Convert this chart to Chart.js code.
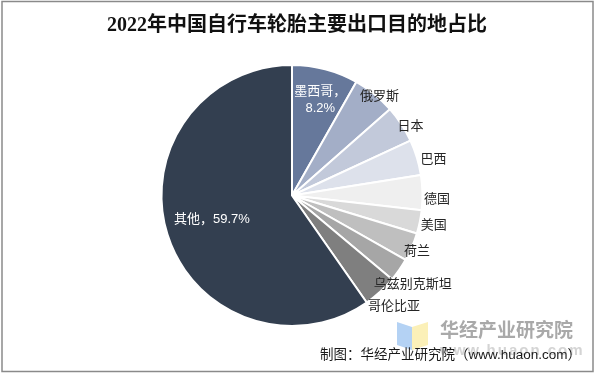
<!DOCTYPE html>
<html>
<head>
<meta charset="utf-8">
<script src="https://cdn.jsdelivr.net/npm/chart.js@4.4.0/dist/chart.umd.min.js"></script>
<style>
  html, body { margin: 0; padding: 0; background: #fff; }
  #wrap { width: 596px; height: 376px; position: relative; }
</style>
</head>
<body>
<div id="wrap"><canvas id="myChart"></canvas></div>
<script>
// data (share of exports, %)
const categories = ["墨西哥", "俄罗斯", "日本", "巴西", "德国", "美国", "荷兰", "乌兹别克斯坦", "哥伦比亚", "其他"];
const shares = [8.2, 5.3, 4.6, 4.4, 4.3, 2.9, 3.5, 2.9, 4.2, 59.7];
const showValue = [true, false, false, false, false, false, false, false, false, true];

const chartTitle = "2022年中国自行车轮胎主要出口目的地占比";
const sourceNote = "制图：华经产业研究院（www.huaon.com）";

// styles
const sliceColors = ["#66789b", "#a3aec7", "#c2c9da", "#dde1eb", "#efefef",
                     "#d9d9d9", "#bfbfbf", "#a6a6a6", "#7f7f7f", "#333f50"];
const labelColors = ["#ffffff", "#262626", "#262626", "#262626", "#262626",
                     "#262626", "#262626", "#262626", "#262626", "#ffffff"];
const labelDist = [99, 132, 137, 146, 145, 145, 137, 150, 151, 84];
const labelTurn = [0, 2.5, 3, 2.6, 2.7, 0.3, 1, 1.7, 0, 0]; // degrees, clockwise
const labelFont = '13px "Liberation Sans", "Noto Sans CJK SC", sans-serif';

const sliceLabels = {
  id: "sliceLabels",
  afterDatasetsDraw(chart) {
    const ctx = chart.ctx;
    const arcs = chart.getDatasetMeta(0).data;
    ctx.save();
    ctx.font = labelFont;
    ctx.textAlign = "center";
    ctx.textBaseline = "middle";
    arcs.forEach(function (arc, i) {
      const p = arc.getProps(["x", "y", "startAngle", "endAngle"], true);
      const a = (p.startAngle + p.endAngle) / 2 + labelTurn[i] * Math.PI / 180;
      const cx = p.x + Math.cos(a) * labelDist[i];
      const cy = p.y + Math.sin(a) * labelDist[i];
      ctx.fillStyle = labelColors[i];
      if (showValue[i] && i === 0) {
        ctx.fillText(categories[i] + "，", cx + 3, cy - 8);
        ctx.fillText(shares[i].toFixed(1) + "%", cx + 3, cy + 9);
      } else if (showValue[i]) {
        ctx.fillText(categories[i] + "，" + shares[i].toFixed(1) + "%", cx, cy - 1);
      } else {
        ctx.fillText(categories[i], cx, cy);
      }
    });
    ctx.restore();
  }
};

const decorations = {
  id: "decorations",
  afterDraw(chart) {
    const ctx = chart.ctx;
    ctx.save();
    // frame
    ctx.strokeStyle = "#8a8a8a";
    ctx.lineWidth = 1.5;
    ctx.strokeRect(2, 1.5, 591, 370);

    // title
    ctx.fillStyle = "#111111";
    ctx.font = 'bold 20px "Liberation Serif", "Noto Sans CJK SC", serif';
    ctx.textAlign = "center";
    ctx.textBaseline = "middle";
    ctx.fillText(chartTitle, 297, 26);

    // watermark logo
    ctx.fillStyle = "#b4d2f4";
    ctx.beginPath();
    ctx.moveTo(397, 322); ctx.lineTo(412, 327); ctx.lineTo(412, 350); ctx.lineTo(397, 345);
    ctx.closePath(); ctx.fill();
    ctx.fillStyle = "#fbf0b8";
    ctx.beginPath();
    ctx.moveTo(412, 327); ctx.lineTo(428, 322); ctx.lineTo(428, 345); ctx.lineTo(412, 350);
    ctx.closePath(); ctx.fill();

    // watermark text
    ctx.textAlign = "left";
    ctx.fillStyle = "#a9a9a9";
    ctx.font = 'bold 19px "Noto Sans CJK SC", sans-serif';
    ctx.fillText("华经产业研究院", 440, 330);
    ctx.fillStyle = "#d4d4d4";
    ctx.font = 'bold 15px "Liberation Sans", sans-serif';
    ctx.letterSpacing = "2px";
    ctx.fillText("www.huaon.com", 440, 351);
    ctx.letterSpacing = "0px";

    // source note
    ctx.textAlign = "right";
    ctx.fillStyle = "#1a1a1a";
    ctx.font = '13.5px "Liberation Sans", "Noto Sans CJK SC", sans-serif';
    ctx.fillText(sourceNote, 581, 355);
    ctx.restore();
  }
};

new Chart("myChart", {
  type: "pie",
  data: {
    labels: categories,
    datasets: [{
      data: shares,
      backgroundColor: sliceColors,
      borderColor: "#ffffff",
      borderWidth: 2,
      radius: 130.5
    }]
  },
  options: {
    responsive: true,
    maintainAspectRatio: false,
    animation: false,
    layout: { padding: { left: 20, right: 32, top: 40, bottom: 25 } },
    plugins: {
      legend: { display: false },
      tooltip: { enabled: false },
      title: { display: false }
    }
  },
  plugins: [sliceLabels, decorations]
});
</script>
</body>
</html>
